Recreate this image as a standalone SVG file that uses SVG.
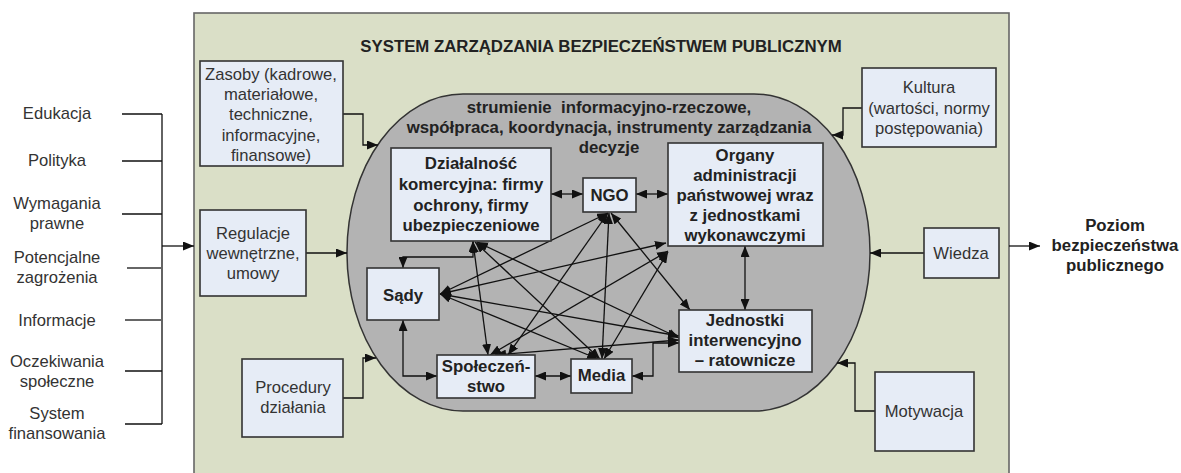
<svg xmlns="http://www.w3.org/2000/svg" width="1181" height="473" viewBox="0 0 1181 473">
<defs>
<marker id="ah" markerUnits="userSpaceOnUse" markerWidth="11" markerHeight="9" refX="11" refY="4.5" orient="auto-start-reverse">
<path d="M0,0 L11,4.5 L0,9 z" fill="#111"/>
</marker>
<style>
.t{font-family:"Liberation Sans",Arial,sans-serif;font-size:16.6px;fill:#333;text-anchor:middle}
.b{font-family:"Liberation Sans",Arial,sans-serif;font-size:16.8px;font-weight:bold;fill:#222;text-anchor:middle}
.box{fill:#e6ecf6;stroke:#333;stroke-width:1.6}
.c{fill:none;stroke:#111;stroke-width:1.3}
.g{fill:none;stroke:#666;stroke-width:2}
.ae{marker-end:url(#ah)}
.ab{marker-start:url(#ah);marker-end:url(#ah)}
</style>
</defs>
<rect id="system" x="194" y="13" width="815" height="470" fill="#dadfc7" stroke="#666" stroke-width="1.6"/>
<text class="b" x="601" y="52">SYSTEM ZARZĄDZANIA BEZPIECZEŃSTWEM PUBLICZNYM</text>
<rect id="core" x="347" y="94" width="523" height="317" rx="116" ry="158" fill="#b3b3b3" stroke="#333" stroke-width="1.5"/>
<text class="b" x="609" y="113" xml:space="preserve">strumienie  informacyjno-rzeczowe,</text>
<text class="b" x="609" y="133">współpraca, koordynacja, instrumenty zarządzania</text>
<text class="b" x="609" y="153">decyzje</text>

<g id="left-factors">
<text class="t" x="57" y="119">Edukacja</text>
<text class="t" x="57" y="166">Polityka</text>
<text class="t" x="57" y="209">Wymagania</text>
<text class="t" x="57" y="229">prawne</text>
<text class="t" x="57" y="263">Potencjalne</text>
<text class="t" x="57" y="283">zagrożenia</text>
<text class="t" x="57" y="326">Informacje</text>
<text class="t" x="57" y="367">Oczekiwania</text>
<text class="t" x="57" y="387">społeczne</text>
<text class="t" x="57" y="419">System</text>
<text class="t" x="57" y="439">finansowania</text>
</g>

<g id="connectors">
<path class="c" d="M122,114 H162 M122,161 H162 M122,214 H162 M125,371 H162 M125,424 H162 M162,114 V424"/>
<path class="g" d="M127,268 H161 M125,320 H161"/>
<path class="c ae" d="M162,246 H194"/>
<path class="c ae" d="M343,114 H363 V145 H378"/>
<path class="c ae" d="M306,253 H347" stroke="#333"/>
<path class="c ae" d="M343,398 H363 V358 H376"/>
<path class="c ae" d="M862,108 H843 V135 H832"/>
<path class="c ae" d="M924,253 H870"/>
<path class="c ae" d="M875,411 H855 V363 H837"/>
<path class="c ae" d="M1009,246 H1040"/>

<path class="c ab" d="M551,194 H583"/>
<path class="c ab" d="M636,194 H668"/>
<path class="c ab" d="M745,246 V310"/>
<path class="c ab" d="M403,320 V376 H437"/>
<path class="c ab" d="M535,376 H571"/>
<path class="c ab" d="M679,343 H653 V376 H632"/>
<path class="c ab" d="M473,241 V257 H403 V268"/>

<path class="c ab" d="M473,242 L488,355"/>
<path class="c ab" d="M475,242 L600,359"/>
<path class="c ab" d="M477,242 L679,338"/>
<path class="c ab" d="M608,213 L440,294"/>
<path class="c ab" d="M608,213 L508,355"/>
<path class="c ab" d="M609,213 L602,359"/>
<path class="c ab" d="M611,213 L690,310"/>
<path class="c ab" d="M440,294 L666,243"/>
<path class="c ab" d="M440,294 L598,359"/>
<path class="c ab" d="M440,294 L679,336"/>
<path class="c ab" d="M490,355 L668,251"/>
<path class="c ab" d="M495,355 L679,340"/>
<path class="c ab" d="M604,359 L668,252"/>
</g>

<g id="zasoby">
<rect class="box" x="200" y="61" width="143" height="105"/>
<text class="t" x="271" y="80">Zasoby (kadrowe,</text>
<text class="t" x="271" y="100">materiałowe,</text>
<text class="t" x="271" y="120">techniczne,</text>
<text class="t" x="271" y="141">informacyjne,</text>
<text class="t" x="271" y="161">finansowe)</text>
</g>
<g id="regulacje">
<rect class="box" x="200" y="210" width="106" height="86"/>
<text class="t" x="253" y="239">Regulacje</text>
<text class="t" x="253" y="259">wewnętrzne,</text>
<text class="t" x="253" y="279">umowy</text>
</g>
<g id="procedury">
<rect class="box" x="242" y="359" width="101" height="78"/>
<text class="t" x="293" y="393">Procedury</text>
<text class="t" x="293" y="413">działania</text>
</g>
<g id="kultura">
<rect class="box" x="862" y="68" width="134" height="79"/>
<text class="t" x="929" y="93">Kultura</text>
<text class="t" x="929" y="114">(wartości, normy</text>
<text class="t" x="929" y="134">postępowania)</text>
</g>
<g id="wiedza">
<rect class="box" x="924" y="228" width="75" height="50"/>
<text class="t" x="961" y="259">Wiedza</text>
</g>
<g id="motywacja">
<rect class="box" x="875" y="372" width="99" height="79"/>
<text class="t" x="924" y="417">Motywacja</text>
</g>
<g id="wynik">
<text class="b" x="1115" y="231">Poziom</text>
<text class="b" x="1115" y="251">bezpieczeństwa</text>
<text class="b" x="1115" y="271">publicznego</text>
</g>

<g id="dzialalnosc">
<rect class="box" x="391" y="148" width="160" height="93"/>
<text class="b" x="471" y="169">Działalność</text>
<text class="b" x="471" y="190">komercyjna: firmy</text>
<text class="b" x="471" y="211">ochrony, firmy</text>
<text class="b" x="471" y="231">ubezpieczeniowe</text>
</g>
<g id="ngo">
<rect class="box" x="583" y="178" width="53" height="34"/>
<text class="b" x="609.5" y="201">NGO</text>
</g>
<g id="organy">
<rect class="box" x="668" y="143" width="155" height="103"/>
<text class="b" x="745" y="161">Organy</text>
<text class="b" x="745" y="181">administracji</text>
<text class="b" x="745" y="201">państwowej wraz</text>
<text class="b" x="745" y="221">z jednostkami</text>
<text class="b" x="745" y="241">wykonawczymi</text>
</g>
<g id="sady">
<rect class="box" x="367" y="268" width="72" height="52"/>
<text class="b" x="403" y="301">Sądy</text>
</g>
<g id="spoleczenstwo">
<rect class="box" x="437" y="355" width="98" height="43"/>
<text class="b" x="486" y="372">Społeczeń-</text>
<text class="b" x="486" y="392">stwo</text>
</g>
<g id="media">
<rect class="box" x="571" y="359" width="61" height="34"/>
<text class="b" x="601.5" y="381">Media</text>
</g>
<g id="jednostki">
<rect class="box" x="679" y="310" width="133" height="62"/>
<text class="b" x="745" y="326">Jednostki</text>
<text class="b" x="745" y="346">interwencyjno</text>
<text class="b" x="745" y="366">– ratownicze</text>
</g>
</svg>
